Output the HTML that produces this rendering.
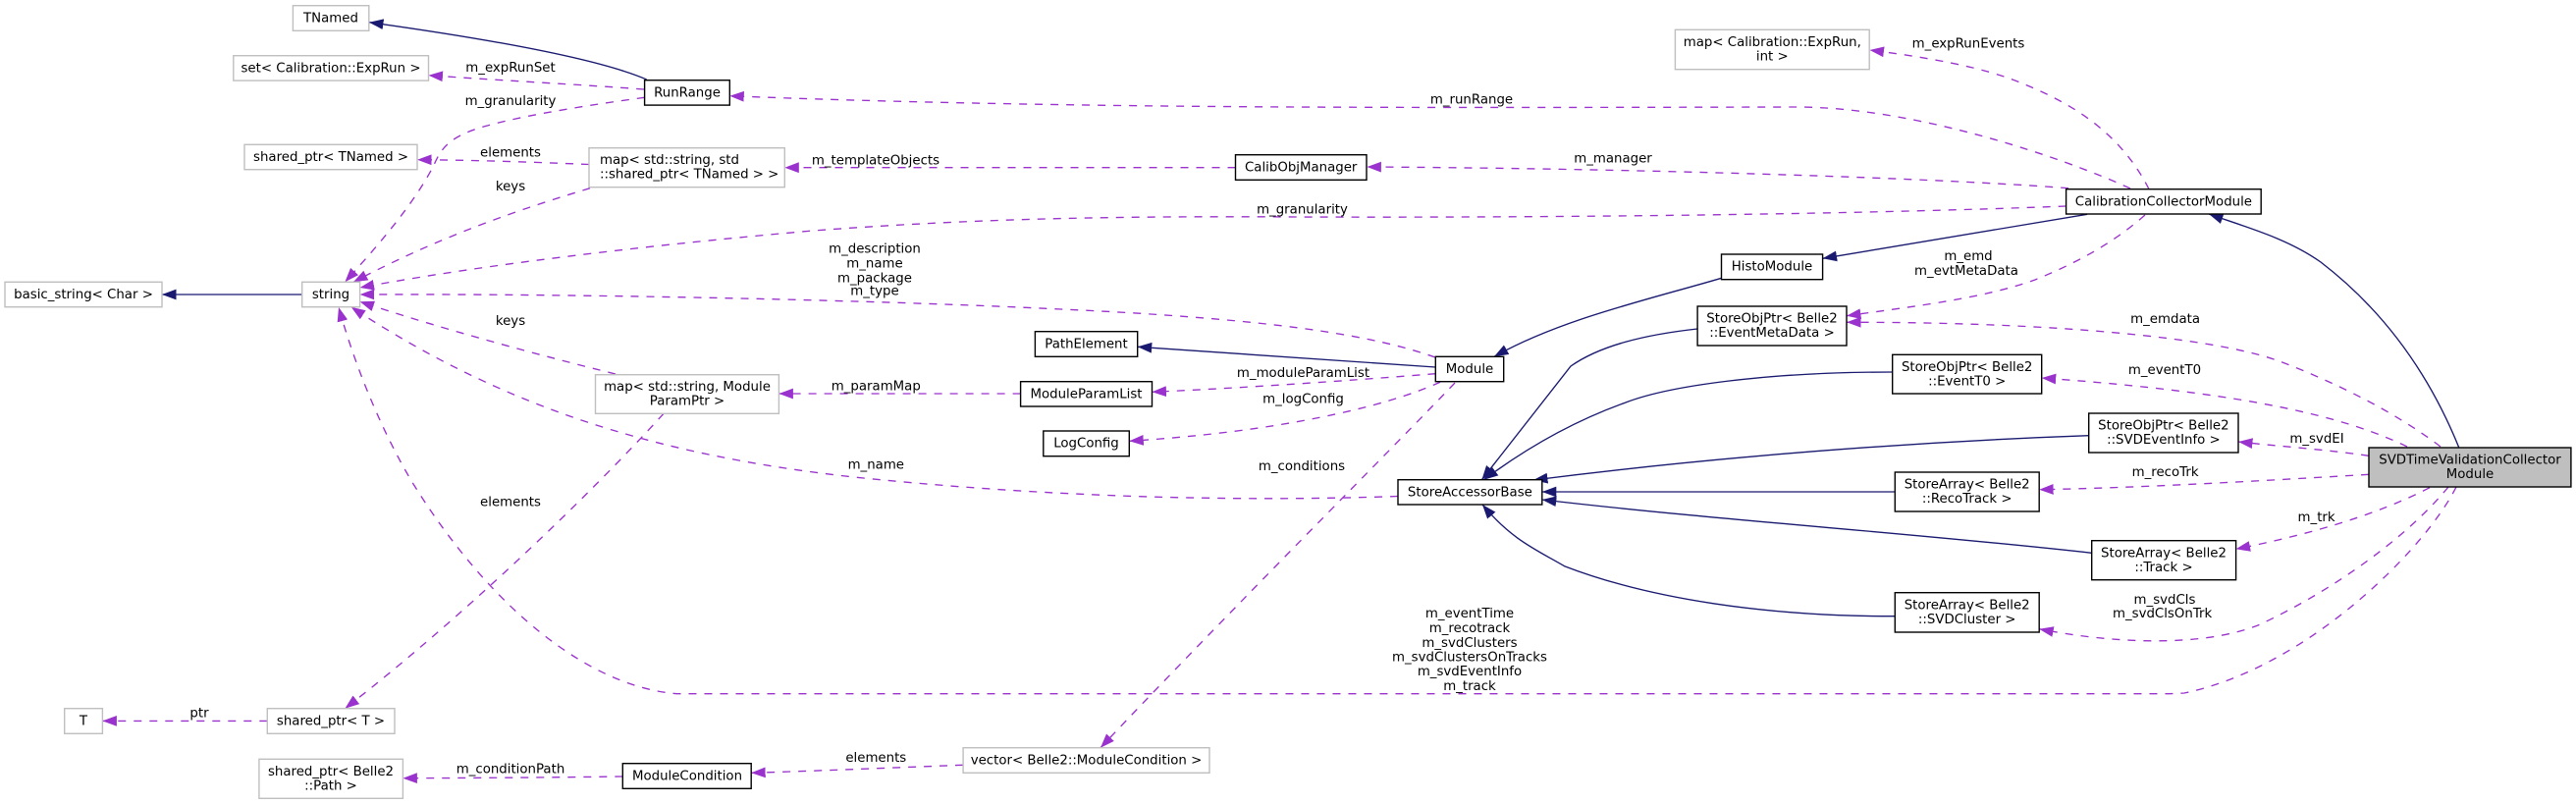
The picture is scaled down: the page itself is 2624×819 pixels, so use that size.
<!DOCTYPE html>
<html>
<head>
<meta charset="utf-8">
<style>
html,body{margin:0;padding:0;background:#fff;width:2624px;height:819px;overflow:hidden}
svg{display:block}
text{font-family:"DejaVu Sans","Liberation Sans",sans-serif;font-size:13.33px;fill:#000;text-anchor:middle}
.n{fill:#fff;stroke:#000;stroke-width:1.4}
.g{fill:#fff;stroke:#bfbfbf;stroke-width:1.4}
.s{fill:none;stroke:#191970;stroke-width:1.35;marker-end:url(#ab)}
.d{fill:none;stroke:#9a32cd;stroke-width:1.35;stroke-dasharray:8 8;marker-end:url(#ap)}
</style>
</head>
<body>
<svg width="2624" height="819" viewBox="0 0 2624 819" xmlns="http://www.w3.org/2000/svg">
<defs>
<marker id="ab" markerUnits="userSpaceOnUse" markerWidth="15" markerHeight="12" refX="14.5" refY="6" orient="auto" viewBox="0 0 15 12"><path d="M0,0.6 L14.5,6 L0,11.4 Z" fill="#191970" stroke="none"/></marker>
<marker id="ap" markerUnits="userSpaceOnUse" markerWidth="15" markerHeight="12" refX="14.5" refY="6" orient="auto" viewBox="0 0 15 12"><path d="M0,0.6 L14.5,6 L0,11.4 Z" fill="#9a32cd" stroke="none"/></marker>
</defs>

<!-- solid edges -->
<path class="s" d="M658.7,81 C610,60 500,40 376,22.7"/>
<path class="s" d="M307.7,300 L165,300"/>
<path class="s" d="M2126,218.3 L1856.6,263.3"/>
<path class="s" d="M1753.5,283.3 C1680,305 1590,325 1522,363.3"/>
<path class="s" d="M1462.3,374 L1158.7,353.3"/>
<path class="s" d="M1729,335 C1675,341 1630,352 1600,373 L1509.4,488.7"/>
<path class="s" d="M1927.7,379 C1800,379 1700,393 1656,410 C1600,430 1550,460 1511.5,488.7"/>
<path class="s" d="M2127.7,443.7 C1950,450 1750,465 1562,489"/>
<path class="s" d="M1930.3,501 L1570.8,501"/>
<path class="s" d="M2130.7,563.3 C1950,543 1750,530 1570.8,509"/>
<path class="s" d="M1930.3,627.7 C1800,628 1680,610 1593.6,576.7 C1565,560 1540,550 1510,514"/>
<path class="s" d="M2504.8,456 C2470,370 2420,310 2364,267 C2330,243 2290,232 2250,218"/>

<!-- dashed edges -->
<path class="d" d="M656,91 C590,86 510,82 436.5,76.7"/>
<path class="d" d="M656.6,99.3 C600,107 500,122 471,137 C450,147 446,160 441,170 C420,210 385,250 351.4,287.3"/>
<path class="d" d="M600,167.5 C540,165 480,163 425,162.7"/>
<path class="d" d="M601,191.7 C530,213 450,240 360,287.3"/>
<path class="d" d="M2104.6,210 C1900,218 1600,222 1320,221 C1150,220 1000,222 828,235 C680,248 500,268 366.6,293"/>
<path class="d" d="M1462,364 C1400,342 1300,325 1081,315 C900,306 600,299 366.6,300"/>
<path class="d" d="M627,381 C550,362 450,335 366.6,307.3"/>
<path class="d" d="M1424,505.5 C1300,510 1100,510 870,486 C680,465 520,420 357.7,312.7"/>
<path class="d" d="M1482,390 C1420,455 1250,625 1121,761.7"/>
<path class="d" d="M676,421.3 C600,505 470,630 351.4,721.7"/>
<path class="d" d="M272.3,734.4 L104.4,734.4"/>
<path class="d" d="M634.3,791 C560,792 480,792.5 410.4,792.7"/>
<path class="d" d="M981,779.3 C910,782 840,785 765.2,787.3"/>
<path class="d" d="M1258.5,170.7 L799.3,170.7"/>
<path class="d" d="M2107,191.7 C1980,182 1700,172 1392.4,170"/>
<path class="d" d="M2170,192 C2100,160 1950,109 1830,109 C1800,109 1500,110 1320,109 C1100,108 900,104 743.3,97.7"/>
<path class="d" d="M2189,192.7 C2160,135 2110,105 2060,85 C2020,68 1960,58 1904.5,51"/>
<path class="d" d="M2185,219 C2150,250 2110,270 2073,285 C2020,304 1950,312 1881,321.7"/>
<path class="d" d="M2486,455 C2440,420 2380,390 2322,368 C2260,345 2100,328 1881,328.3"/>
<path class="d" d="M2452,455 C2390,425 2290,400 2079.7,385"/>
<path class="d" d="M2413,464.3 C2370,458 2325,455 2280,450"/>
<path class="d" d="M2413,483.3 C2300,490 2180,497 2077.2,498.7"/>
<path class="d" d="M2475,496.7 C2420,525 2350,545 2277.6,559.3"/>
<path class="d" d="M2494,496 C2450,550 2370,605 2300,637 C2240,660 2150,655 2077.2,640.7"/>
<path class="d" d="M2502,496 C2470,560 2350,680 2225,706 C2210,707 2200,706.7 2190,706.7 L690,706.7 C600,700 500,620 421,493 C395,450 365,385 345,313"/>
<path class="d" d="M1462.3,380.7 C1370,388 1270,395 1173.5,399.3"/>
<path class="d" d="M1039.6,401 L793.4,401"/>
<path class="d" d="M1467,389.3 C1410,415 1300,440 1150.3,449.3"/>

<!-- nodes -->
<rect class="g" x="298.4" y="5.7" width="77.4" height="25.6"/><text x="337" y="22.7">TNamed</text>
<rect class="g" x="237.8" y="56.7" width="198.7" height="25.4"/><text x="337" y="73.5">set&lt; Calibration::ExpRun &gt;</text>
<rect class="g" x="249" y="147.3" width="176" height="25.4"/><text x="337" y="164">shared_ptr&lt; TNamed &gt;</text>
<rect class="g" x="5" y="287.3" width="160" height="25.4"/><text x="85" y="304">basic_string&lt; Char &gt;</text>
<rect class="g" x="307.7" y="287.3" width="58.9" height="25.4"/><text x="337" y="304">string</text>
<rect class="g" x="600" y="150.7" width="199.3" height="40"/><text x="611" y="167" style="text-anchor:start">map&lt; std::string, std</text><text x="611" y="181.7" style="text-anchor:start">::shared_ptr&lt; TNamed &gt; &gt;</text>
<rect class="n" x="656.6" y="81.7" width="86.7" height="25.4"/><text x="700" y="98.5">RunRange</text>
<rect class="g" x="606.5" y="381.7" width="186.9" height="39.6"/><text x="700" y="398">map&lt; std::string, Module</text><text x="700" y="412.7">ParamPtr &gt;</text>
<rect class="g" x="272.3" y="721.7" width="129.7" height="25.6"/><text x="337" y="738.5">shared_ptr&lt; T &gt;</text>
<rect class="g" x="65.7" y="721.7" width="38.7" height="25.6"/><text x="85" y="738.5">T</text>
<rect class="g" x="263.9" y="773.3" width="146.5" height="40"/><text x="337" y="790">shared_ptr&lt; Belle2</text><text x="337" y="804.7">::Path &gt;</text>
<rect class="n" x="634.3" y="777.7" width="130.9" height="25.6"/><text x="700" y="794.5">ModuleCondition</text>
<rect class="g" x="981.1" y="761.7" width="250.9" height="25.6"/><text x="1106.5" y="778.5">vector&lt; Belle2::ModuleCondition &gt;</text>
<rect class="n" x="1062.8" y="439" width="87.5" height="25.7"/><text x="1106.5" y="455.7">LogConfig</text>
<rect class="n" x="1039.6" y="388.7" width="133.9" height="25.3"/><text x="1106.5" y="405.5">ModuleParamList</text>
<rect class="n" x="1054.4" y="337.7" width="104.3" height="25.6"/><text x="1106.5" y="354.5">PathElement</text>
<rect class="n" x="1258.5" y="157.7" width="133.5" height="25.6"/><text x="1325.2" y="174.5">CalibObjManager</text>
<rect class="g" x="1706.4" y="30.3" width="197.8" height="40.4"/><text x="1805.3" y="47">map&lt; Calibration::ExpRun,</text><text x="1805.3" y="61.5">int &gt;</text>
<rect class="n" x="1753.5" y="259" width="103.1" height="25.7"/><text x="1805" y="275.7">HistoModule</text>
<rect class="n" x="1729.1" y="312" width="151.9" height="40"/><text x="1805" y="328.5">StoreObjPtr&lt; Belle2</text><text x="1805" y="343.2">::EventMetaData &gt;</text>
<rect class="n" x="1462.3" y="363.3" width="69.4" height="25.4"/><text x="1497" y="380">Module</text>
<rect class="n" x="1424" y="488.7" width="146.8" height="25.3"/><text x="1497.4" y="505.5">StoreAccessorBase</text>
<rect class="n" x="1927.7" y="361.3" width="152" height="39.7"/><text x="2003.7" y="378">StoreObjPtr&lt; Belle2</text><text x="2003.7" y="392.7">::EventT0 &gt;</text>
<rect class="n" x="1930.3" y="481" width="146.9" height="40"/><text x="2003.7" y="497.5">StoreArray&lt; Belle2</text><text x="2003.7" y="512.2">::RecoTrack &gt;</text>
<rect class="n" x="1930.3" y="603.7" width="146.9" height="40.3"/><text x="2003.7" y="620.3">StoreArray&lt; Belle2</text><text x="2003.7" y="635">::SVDCluster &gt;</text>
<rect class="n" x="2104.6" y="192.7" width="198.6" height="25.3"/><text x="2203.9" y="209.5">CalibrationCollectorModule</text>
<rect class="n" x="2127.7" y="421" width="152.3" height="40"/><text x="2203.9" y="437.5">StoreObjPtr&lt; Belle2</text><text x="2203.9" y="452.2">::SVDEventInfo &gt;</text>
<rect class="n" x="2130.7" y="550.7" width="146.9" height="40"/><text x="2204" y="567.3">StoreArray&lt; Belle2</text><text x="2204" y="582">::Track &gt;</text>
<rect class="n" x="2413" y="456" width="205.9" height="40" style="fill:#bfbfbf"/><text x="2516" y="472.5">SVDTimeValidationCollector</text><text x="2516" y="487.2">Module</text>

<!-- edge labels -->
<text x="520" y="73">m_expRunSet</text>
<text x="520" y="107">m_granularity</text>
<text x="520" y="159.3">elements</text>
<text x="520" y="194">keys</text>
<text x="520" y="331">keys</text>
<text x="520" y="515.3">elements</text>
<text x="203" y="730.7">ptr</text>
<text x="520" y="787.3">m_conditionPath</text>
<text x="892" y="167.3">m_templateObjects</text>
<text x="891" y="257.3">m_description</text>
<text x="891" y="272.3">m_name</text>
<text x="891" y="287.3">m_package</text>
<text x="891" y="300.7">m_type</text>
<text x="892.3" y="397.7">m_paramMap</text>
<text x="892.3" y="477.3">m_name</text>
<text x="892.3" y="776">elements</text>
<text x="1499" y="105.3">m_runRange</text>
<text x="1643" y="165.7">m_manager</text>
<text x="1326.5" y="217.3">m_granularity</text>
<text x="1327.5" y="384">m_moduleParamList</text>
<text x="1327.5" y="410.7">m_logConfig</text>
<text x="1326" y="479">m_conditions</text>
<text x="1497" y="629">m_eventTime</text>
<text x="1497" y="644">m_recotrack</text>
<text x="1497" y="659">m_svdClusters</text>
<text x="1497" y="673.3">m_svdClustersOnTracks</text>
<text x="1497" y="688">m_svdEventInfo</text>
<text x="1497" y="703">m_track</text>
<text x="2005" y="48.3">m_expRunEvents</text>
<text x="2005" y="265">m_emd</text>
<text x="2003" y="280">m_evtMetaData</text>
<text x="2205.6" y="329">m_emdata</text>
<text x="2205" y="381">m_eventT0</text>
<text x="2360" y="451">m_svdEI</text>
<text x="2205.6" y="485">m_recoTrk</text>
<text x="2359.6" y="531">m_trk</text>
<text x="2205" y="615">m_svdCls</text>
<text x="2202.6" y="629">m_svdClsOnTrk</text>
</svg>
</body>
</html>
